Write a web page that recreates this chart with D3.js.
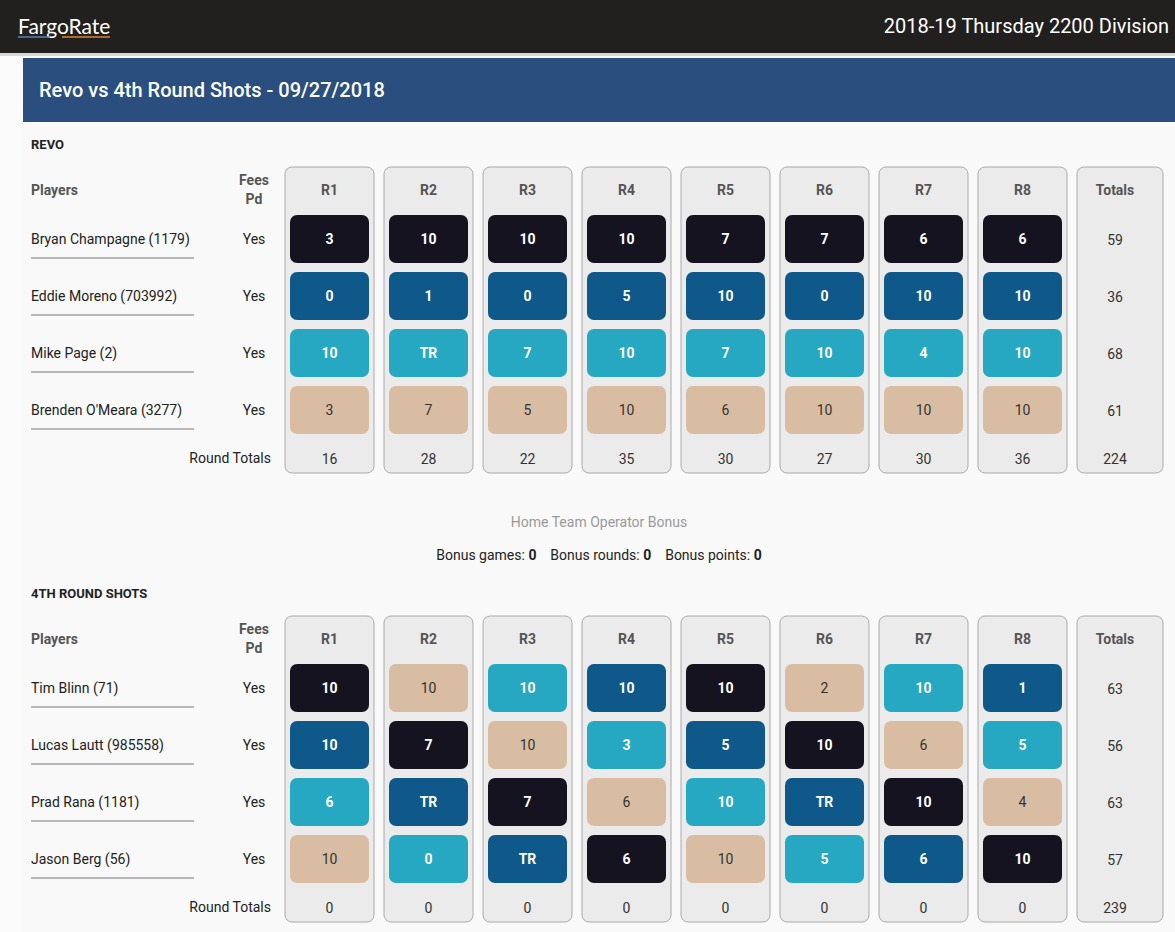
<!DOCTYPE html>
<html><head><meta charset="utf-8">
<script src="https://cdn.jsdelivr.net/npm/d3@7"></script>
<style>
body{margin:0;background:#fafafa;font-family:Roboto,"Open Sans",sans-serif;}
</style></head>
<body>
<script>
const rounds = ["R1","R2","R3","R4","R5","R6","R7","R8"];
const teamNames = ["REVO","4TH ROUND SHOTS"];
const players1 = ["Bryan Champagne (1179)","Eddie Moreno (703992)","Mike Page (2)","Brenden O'Meara (3277)"];
const players2 = ["Tim Blinn (71)","Lucas Lautt (985558)","Prad Rana (1181)","Jason Berg (56)"];
const scores1 = [
  ["3","10","10","10","7","7","6","6"],
  ["0","1","0","5","10","0","10","10"],
  ["10","TR","7","10","7","10","4","10"],
  ["3","7","5","10","6","10","10","10"]];
const scores2 = [
  ["10","10","10","10","10","2","10","1"],
  ["10","7","10","3","5","10","6","5"],
  ["6","TR","7","6","10","TR","10","4"],
  ["10","0","TR","6","10","5","6","10"]];
// opponent index for the cell colour
const opp1 = [[0,0,0,0,0,0,0,0],[1,1,1,1,1,1,1,1],[2,2,2,2,2,2,2,2],[3,3,3,3,3,3,3,3]];
const opp2 = [[0,3,2,1,0,3,2,1],[1,0,3,2,1,0,3,2],[2,1,0,3,2,1,0,3],[3,2,1,0,3,2,1,0]];
const playerTotals1 = [59,36,68,61];
const playerTotals2 = [63,56,63,57];
const roundTotals1 = [16,28,22,35,30,27,30,36];
const roundTotals2 = [0,0,0,0,0,0,0,0];
const grandTotals = [224,239];

const W = 1175, H = 932;
const svg = d3.select("body").append("svg").attr("width", W).attr("height", H)
  .style("display","block");

// top bar
svg.append("rect").attr("width", W).attr("height", 53).attr("fill", "#221f1f");
svg.append("rect").attr("y", 53).attr("width", W).attr("height", 3).attr("fill", "#d8d8d8");
svg.append("text").attr("x", 18).attr("y", 34).attr("fill", "#fff")
  .attr("font-size", 21).attr("font-family", "Lato, sans-serif").text("FargoRate");
svg.append("line").attr("x1", 18).attr("x2", 50).attr("y1", 37).attr("y2", 37).attr("stroke", "#5a82b8").attr("stroke-width", 1.5);
svg.append("line").attr("x1", 62).attr("x2", 110).attr("y1", 37).attr("y2", 37).attr("stroke", "#d8843a").attr("stroke-width", 1.5);
svg.append("text").attr("x", 1169).attr("y", 33).attr("fill", "#fff").attr("text-anchor", "end")
  .attr("font-size", 20).text("2018-19 Thursday 2200 Division");

// title band
svg.append("rect").attr("x", 23).attr("y", 58).attr("width", 1152).attr("height", 64).attr("fill", "#2a4f7f");
svg.append("text").attr("x", 39).attr("y", 97).attr("fill", "#fff").attr("font-size", 20)
  .attr("font-weight", 500).text("Revo vs 4th Round Shots - 09/27/2018");
svg.append("rect").attr("x", 23).attr("y", 122).attr("width", 1152).attr("height", 810).attr("fill", "#f9f9f9");

const colors = ["#15131f", "#0e588a", "#27a8c2", "#d9bda2"];
const x = d3.scaleBand().domain(rounds).range([285, 1067]).paddingInner(10 / 99).paddingOuter(0);
const y = d3.scaleBand().domain(d3.range(4)).range([215, 434]).paddingInner(9 / 57).paddingOuter(0);

function drawTeam(off, name, players, scores, opp, ptot, rtot, gtot) {
  const g = svg.append("g").attr("transform", `translate(0,${off})`);
  g.append("text").attr("x", 31).attr("y", 149).attr("font-size", 13).attr("font-weight", 700)
    .attr("fill", "#222").text(name);
  g.append("text").attr("x", 31).attr("y", 195).attr("font-size", 14).attr("font-weight", 700)
    .attr("fill", "#555").text("Players");
  g.append("text").attr("x", 254).attr("y", 185).attr("text-anchor", "middle").attr("font-size", 14)
    .attr("font-weight", 700).attr("fill", "#555").text("Fees");
  g.append("text").attr("x", 254).attr("y", 204).attr("text-anchor", "middle").attr("font-size", 14)
    .attr("font-weight", 700).attr("fill", "#555").text("Pd");

  // round columns
  g.selectAll("rect.col").data(rounds).join("rect").attr("class", "col")
    .attr("x", d => x(d)).attr("y", 167).attr("width", x.bandwidth()).attr("height", 306)
    .attr("rx", 7).attr("fill", "#ebebeb").attr("stroke", "#aaa");
  g.selectAll("text.rh").data(rounds).join("text").attr("class", "rh")
    .attr("x", d => x(d) + x.bandwidth() / 2).attr("y", 195).attr("text-anchor", "middle")
    .attr("font-size", 14).attr("font-weight", 700).attr("fill", "#555").text(d => d);
  // totals column
  g.append("rect").attr("x", 1077).attr("y", 167).attr("width", 86).attr("height", 306)
    .attr("rx", 7).attr("fill", "#ebebeb").attr("stroke", "#aaa");
  g.append("text").attr("x", 1115).attr("y", 195).attr("text-anchor", "middle")
    .attr("font-size", 14).attr("font-weight", 700).attr("fill", "#555").text("Totals");

  players.forEach((p, i) => {
    const cy = y(i) + y.bandwidth() / 2;
    g.append("text").attr("x", 31).attr("y", cy + 5).attr("font-size", 14).attr("fill", "#222").text(p);
    g.append("line").attr("x1", 31).attr("x2", 194).attr("y1", cy + 19).attr("y2", cy + 19)
      .attr("stroke", "#777");
    g.append("text").attr("x", 254).attr("y", cy + 5).attr("text-anchor", "middle")
      .attr("font-size", 14).attr("fill", "#222").text("Yes");
    g.append("text").attr("x", 1115).attr("y", cy + 6).attr("text-anchor", "middle")
      .attr("font-size", 14).attr("fill", "#333").text(ptot[i]);
    const cells = g.append("g").selectAll("g").data(rounds).join("g");
    cells.append("rect").attr("x", d => x(d) + 5).attr("y", y(i)).attr("width", x.bandwidth() - 10)
      .attr("height", y.bandwidth()).attr("rx", 7).attr("fill", (d, j) => colors[opp[i][j]]);
    cells.append("text").attr("x", d => x(d) + x.bandwidth() / 2).attr("y", cy + 5)
      .attr("text-anchor", "middle").attr("font-size", 14)
      .attr("font-weight", (d, j) => opp[i][j] === 3 ? 400 : 700)
      .attr("fill", (d, j) => opp[i][j] === 3 ? "#333" : "#fff").text((d, j) => scores[i][j]);
  });

  g.append("text").attr("x", 271).attr("y", 463).attr("text-anchor", "end").attr("font-size", 14)
    .attr("fill", "#222").text("Round Totals");
  g.selectAll("text.rt").data(rounds).join("text").attr("class", "rt")
    .attr("x", d => x(d) + x.bandwidth() / 2).attr("y", 464).attr("text-anchor", "middle")
    .attr("font-size", 14).attr("fill", "#333").text((d, j) => rtot[j]);
  g.append("text").attr("x", 1115).attr("y", 464).attr("text-anchor", "middle")
    .attr("font-size", 14).attr("fill", "#333").text(gtot);
}

drawTeam(0, teamNames[0], players1, scores1, opp1, playerTotals1, roundTotals1, grandTotals[0]);
drawTeam(449, teamNames[1], players2, scores2, opp2, playerTotals2, roundTotals2, grandTotals[1]);

svg.append("text").attr("x", 599).attr("y", 527).attr("text-anchor", "middle").attr("font-size", 14)
  .attr("fill", "#999").text("Home Team Operator Bonus");
const bonus = svg.append("text").attr("x", 599).attr("y", 560).attr("text-anchor", "middle")
  .attr("font-size", 14).attr("fill", "#222");
[["Bonus games: ", "0"], ["    Bonus rounds: ", "0"], ["    Bonus points: ", "0"]].forEach(([a, b]) => {
  bonus.append("tspan").attr("xml:space", "preserve").style("white-space", "pre").text(a);
  bonus.append("tspan").attr("font-weight", 700).text(b);
});
</script>
</body></html>
